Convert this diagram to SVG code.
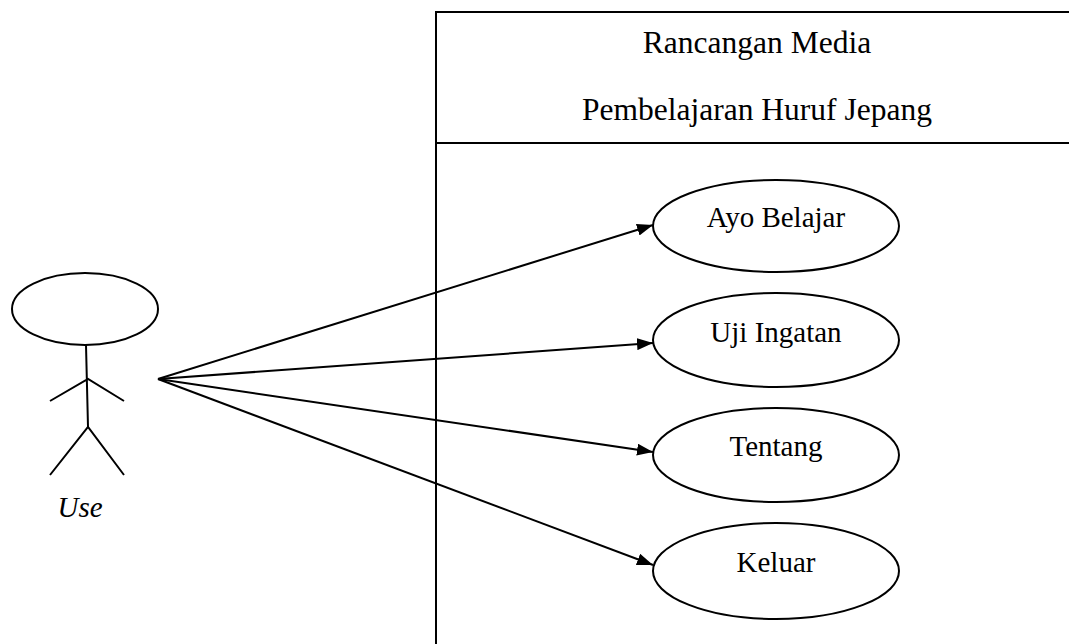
<svg xmlns="http://www.w3.org/2000/svg" width="1069" height="644" viewBox="0 0 1069 644">
  <style>
    .ln { fill: none; stroke: #000; stroke-width: 2; }
    .uc { fill: #fff; stroke: #000; stroke-width: 2; }
    .t { font-family: "Liberation Serif", "Times New Roman", serif; fill: #000; text-anchor: middle; }
    .title { font-size: 31.5px; }
    .lbl { font-size: 29px; }
  </style>
  <defs>
    <marker id="arrow" viewBox="0 0 16 12" refX="16" refY="6" markerWidth="16" markerHeight="12" markerUnits="userSpaceOnUse" orient="auto">
      <path d="M0,0 L16,6 L0,12 Z" fill="#000"/>
    </marker>
  </defs>
  <rect width="1069" height="644" fill="#fff"/>

  <!-- system boundary -->
  <g id="system">
    <path class="ln" d="M1075,12 H436 V650 M436,143 H1075"/>
    <text class="t title" x="757" y="53">Rancangan Media</text>
    <text class="t title" x="757" y="120">Pembelajaran Huruf Jepang</text>
  </g>

  <!-- actor -->
  <g id="actor-use">
    <ellipse class="ln" cx="85" cy="309" rx="73" ry="36"/>
    <path class="ln" d="M86,345 L88,427 M50,401 L88,379 L124,401 M50,475 L88,427 L124,475"/>
    <text class="t lbl" x="80" y="517" font-style="italic">Use</text>
  </g>

  <!-- associations -->
  <g id="connectors">
    <line class="ln" x1="158" y1="379" x2="653" y2="225" marker-end="url(#arrow)"/>
    <line class="ln" x1="158" y1="379" x2="653" y2="343" marker-end="url(#arrow)"/>
    <line class="ln" x1="158" y1="379" x2="653" y2="452" marker-end="url(#arrow)"/>
    <line class="ln" x1="158" y1="379" x2="653" y2="565" marker-end="url(#arrow)"/>
  </g>

  <!-- use cases -->
  <g id="uc-ayo-belajar">
    <ellipse class="uc" cx="776" cy="226" rx="123" ry="46"/>
    <text class="t lbl" x="776" y="227">Ayo Belajar</text>
  </g>
  <g id="uc-uji-ingatan">
    <ellipse class="uc" cx="776" cy="340" rx="123" ry="47"/>
    <text class="t lbl" x="776" y="342">Uji Ingatan</text>
  </g>
  <g id="uc-tentang">
    <ellipse class="uc" cx="776" cy="455" rx="123" ry="47"/>
    <text class="t lbl" x="776" y="456">Tentang</text>
  </g>
  <g id="uc-keluar">
    <ellipse class="uc" cx="776" cy="571" rx="123" ry="48"/>
    <text class="t lbl" x="776" y="572">Keluar</text>
  </g>
</svg>
